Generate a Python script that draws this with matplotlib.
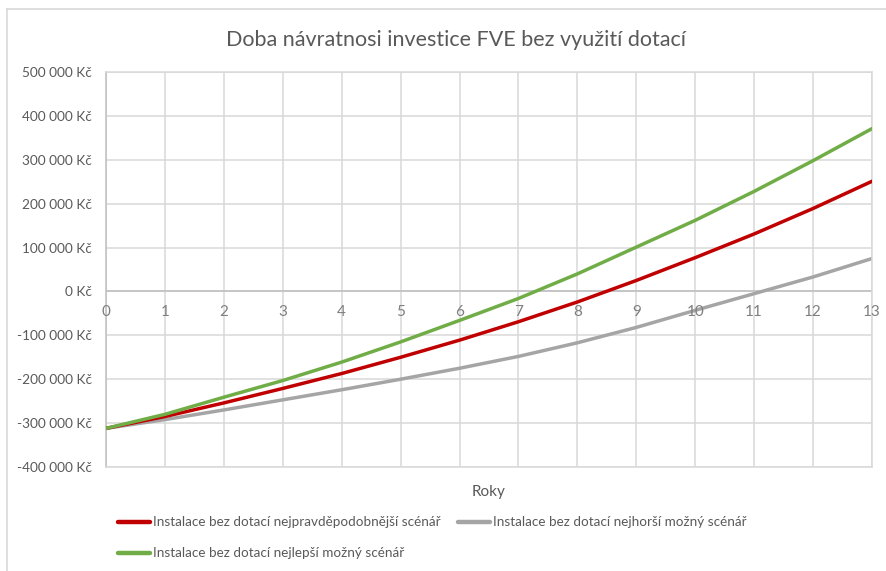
import matplotlib
matplotlib.use("Agg")
import matplotlib.pyplot as plt
from matplotlib.lines import Line2D
from matplotlib.ticker import FuncFormatter

# Data (values in Kc)
roky = [0, 1, 2, 3, 4, 5, 6, 7, 8, 9, 10, 11, 12, 13]
nejpravdepodobnejsi = [-312000, -285000, -254000, -221000, -187000, -150000, -111000,
                       -69000, -24000, 25000, 77000, 131000, 189000, 251000]
nejhorsi = [-312000, -292000, -270000, -247000, -224000, -200000, -175000,
            -148000, -117000, -82000, -43000, -5000, 33000, 75000]
nejlepsi = [-312000, -280000, -241000, -203000, -161000, -115000, -66000,
            -16000, 40000, 101000, 162000, 228000, 298000, 371000]

nazvy = ["Instalace bez dotací nejpravděpodobnější scénář",
         "Instalace bez dotací nejhorší možný scénář",
         "Instalace bez dotací nejlepší možný scénář"]
barvy = ["#c00000", "#a5a5a5", "#70ad47"]

plt.rcParams['font.family'] = ['Lato', 'DejaVu Sans']
txt = "#595959"
grid = "#d9d9d9"

fig = plt.figure(figsize=(8.86, 5.71), dpi=100)
ax = fig.add_axes([106 / 886, 1 - 467 / 571, (872 - 106) / 886, (467 - 72) / 571])

ax.plot(roky, nejpravdepodobnejsi, color=barvy[0], lw=2.5, solid_capstyle='round', zorder=3)
ax.plot(roky, nejhorsi, color=barvy[1], lw=2.5, solid_capstyle='round', zorder=2)
ax.plot(roky, nejlepsi, color=barvy[2], lw=2.5, solid_capstyle='round', zorder=4)

ax.set_xlim(0, 13)
ax.set_ylim(-400000, 500000)
ax.set_xticks(roky)
ax.set_yticks(range(-400000, 500001, 100000))
ax.grid(True, color=grid, lw=1.1)
ax.set_axisbelow(True)
for s in ax.spines.values():
    s.set_color(grid)
    s.set_linewidth(1.1)
ax.axhline(0, color="#bfbfbf", lw=1.1, zorder=1)
ax.spines['left'].set_color("#bfbfbf")

def kc(v, pos):
    v = int(round(v))
    if v == 0:
        return "0 Kč"
    s = f"{abs(v):,}".replace(",", " ")
    return ("-" if v < 0 else "") + s + " Kč"

ax.yaxis.set_major_formatter(FuncFormatter(kc))
ax.tick_params(axis='y', length=0, pad=10, labelsize=9.8, labelcolor=txt)
ax.tick_params(axis='x', length=0)
ax.set_xticklabels([])
# year labels sit just under the zero line, as in Excel
for r in roky:
    ax.text(r, -30000, str(r), ha='center', va='top', fontsize=11, color="#7f7f7f")

fig.text(489 / 886, 1 - 492 / 571, "Roky", ha='center', va='center', fontsize=11, color=txt)
fig.text(456 / 886, 1 - 40 / 571, "Doba návratnosi investice FVE bez využití dotací",
         ha='center', va='center', fontsize=15.5, color=txt)

# chart border
fig.add_artist(Line2D([7 / 886, 1], [1 - 9 / 571] * 2, color="#d9d9d9", lw=1.2))
fig.add_artist(Line2D([7 / 886] * 2, [0, 1 - 9 / 571], color="#d9d9d9", lw=1.2))

# legend drawn by hand
poz = [(118, 522), (458, 522), (118, 553)]
for (x0, y0), nazev, barva in zip(poz, nazvy, barvy):
    yy = 1 - y0 / 571
    fig.add_artist(Line2D([x0 / 886, (x0 + 32) / 886], [yy, yy], color=barva, lw=3.2,
                          solid_capstyle='round'))
    fig.text((x0 + 35) / 886, yy, nazev, ha='left', va='center', fontsize=9.7,
             color=txt)

fig.savefig("out.png", dpi=100)
